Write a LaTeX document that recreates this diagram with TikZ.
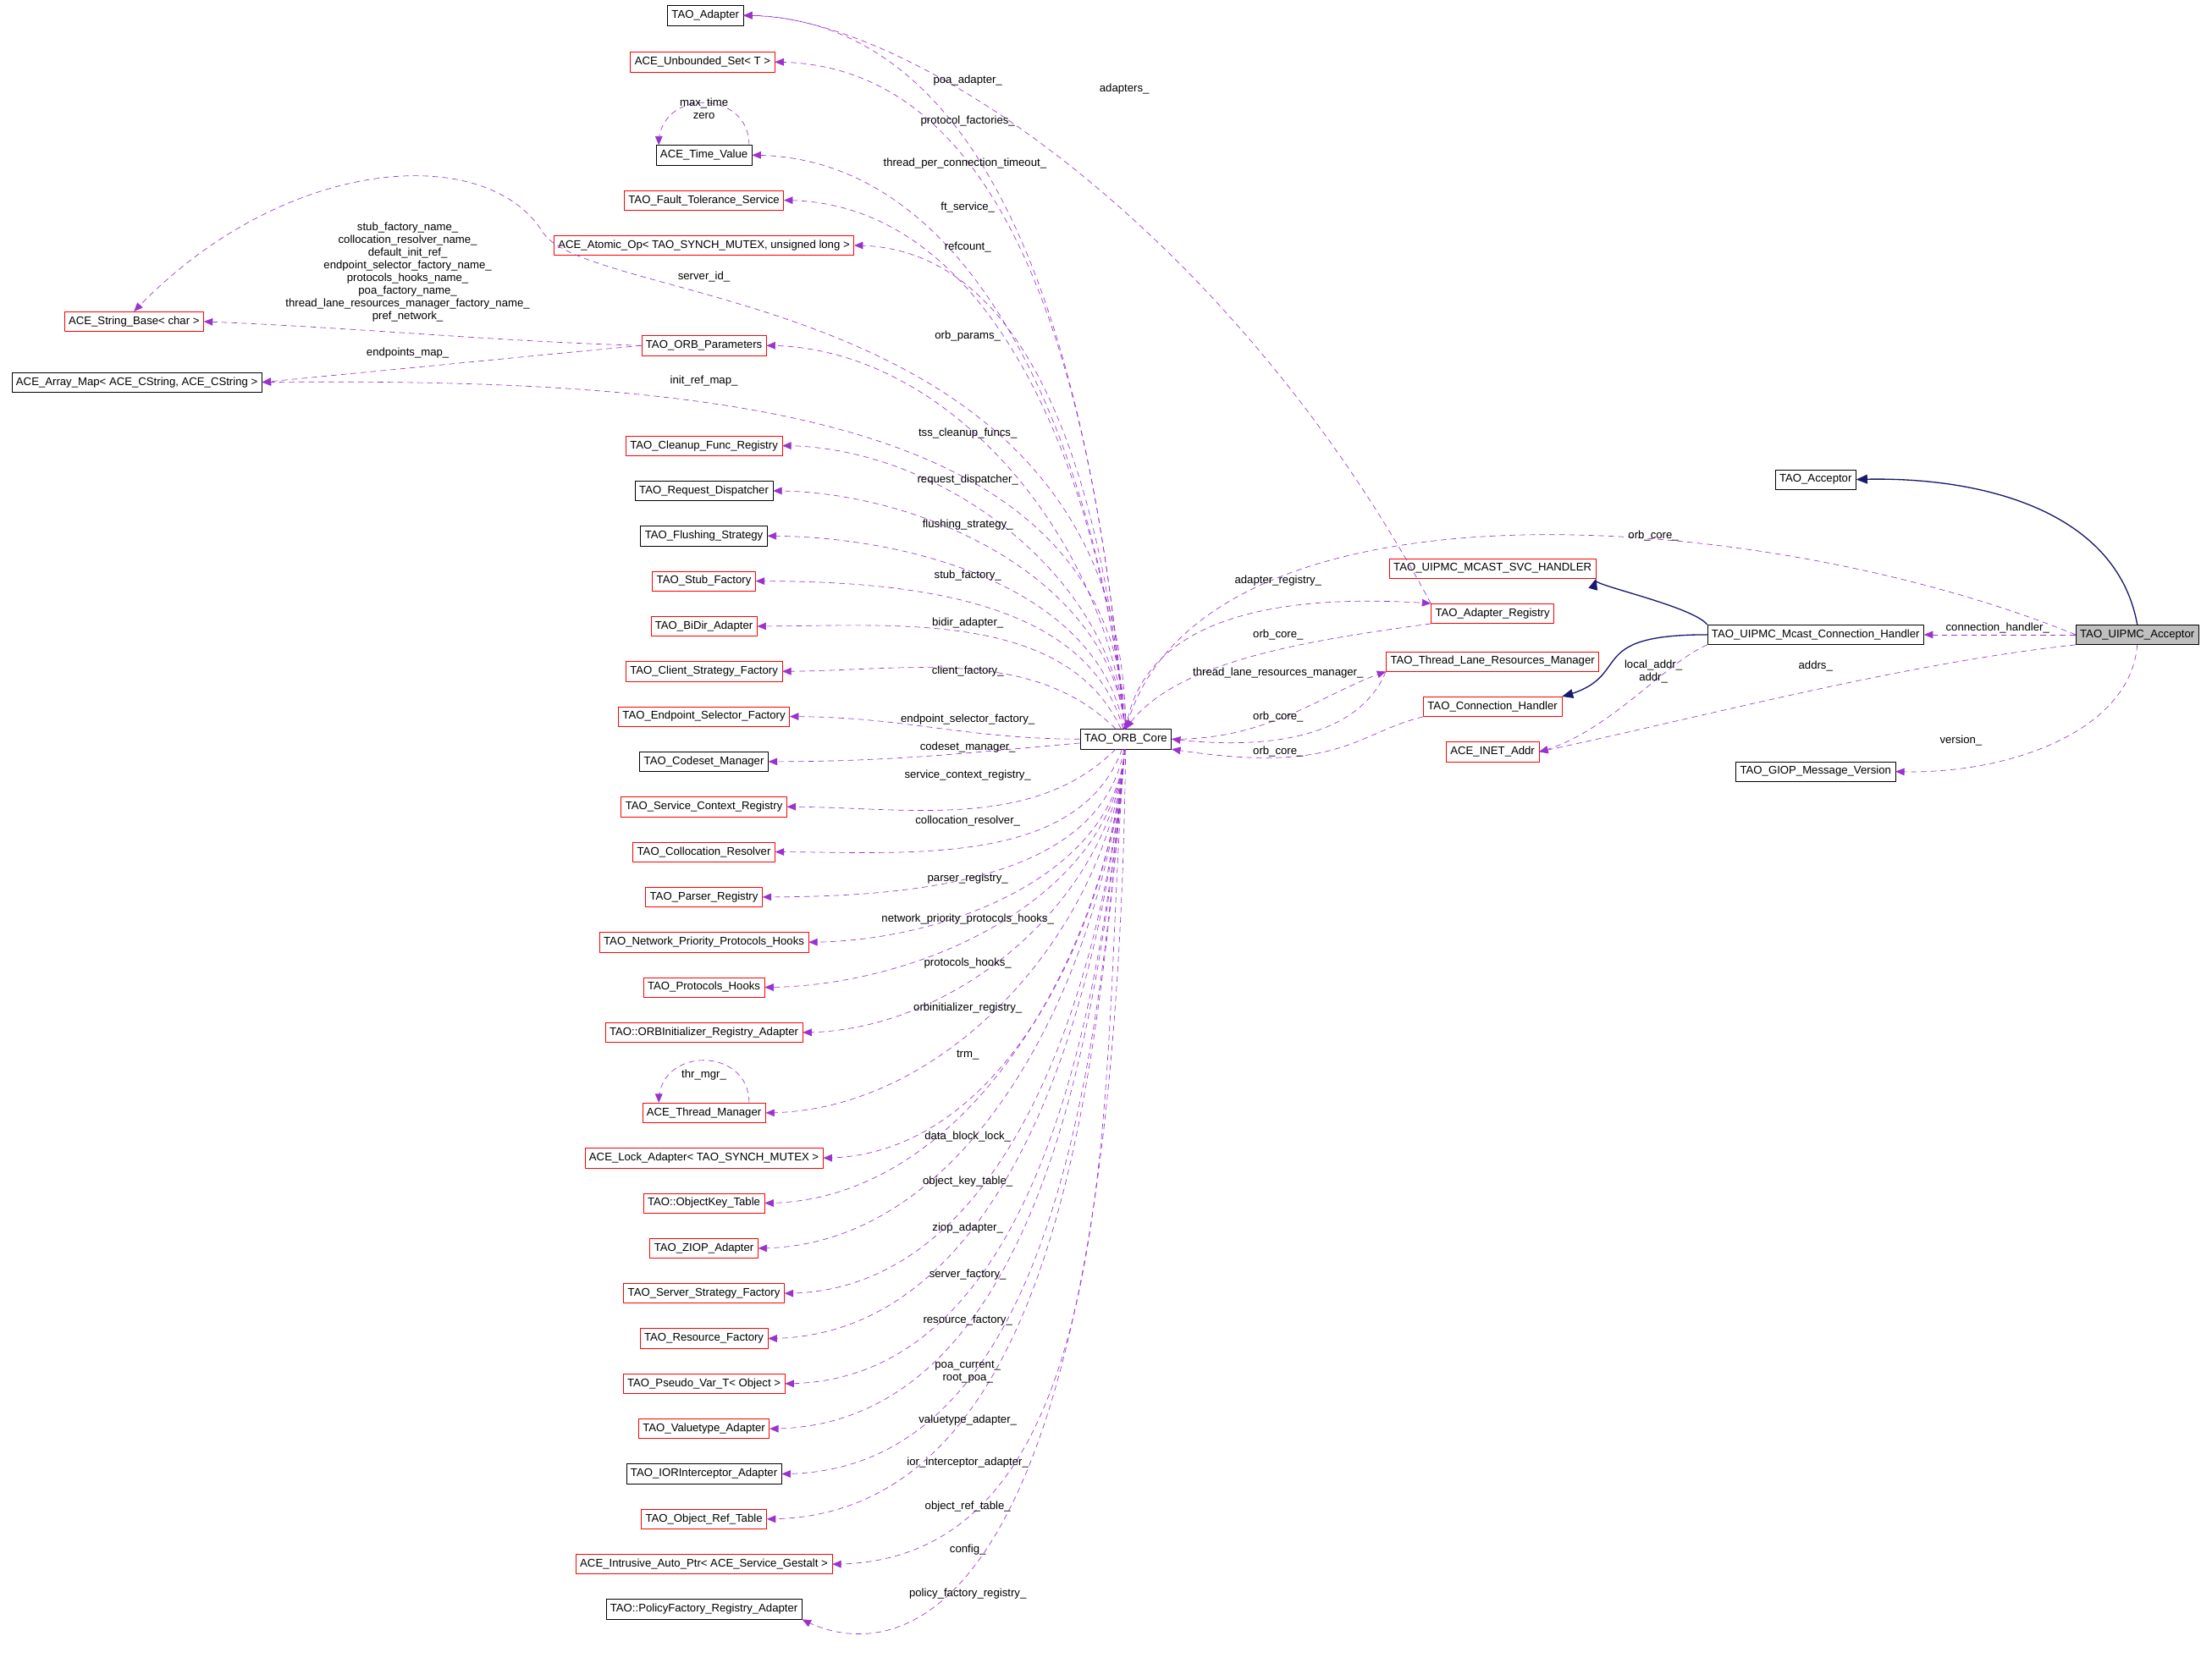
\documentclass[tikz,border=0pt]{standalone}
\usepackage{fontspec}
\setmainfont{Liberation Sans}
\usetikzlibrary{arrows}
\definecolor{depcol}{HTML}{9A32CD}
\definecolor{inhcol}{HTML}{191970}
\begin{document}
\begin{tikzpicture}[x=1pt,y=-1pt,>=triangle 45,line join=round,
	box/.style={draw=black,fill=white,minimum height=14,inner sep=3pt,font=\fontsize{7.9}{9}\selectfont},
	redbox/.style={box,draw=red},
	dep/.style={->,depcol,dashed,dash pattern=on 4pt off 3pt},
	inh/.style={->,inhcol,thick},
	lab/.style={font=\fontsize{7.9}{9}\selectfont,inner sep=0pt,align=center}]
		\useasboundingbox (0,0) rectangle (1568,1175);
		% nodes on the left
		\node[box] (adapter) at (500,11) {TAO\_Adapter};
		\node[redbox] (unbset) at (498,44) {ACE\_Unbounded\_Set< T >};
		\node[box] (timeval) at (499,110) {ACE\_Time\_Value};
		\node[redbox] (ftserv) at (499,142) {TAO\_Fault\_Tolerance\_Service};
		\node[redbox] (atomic) at (499,174) {ACE\_Atomic\_Op< TAO\_SYNCH\_MUTEX, unsigned long >};
		\node[redbox] (strbase) at (95,228) {ACE\_String\_Base< char >};
		\node[redbox] (orbparams) at (499,245) {TAO\_ORB\_Parameters};
		\node[box] (arraymap) at (97,271) {ACE\_Array\_Map< ACE\_CString, ACE\_CString >};
		\node[redbox] (cleanup) at (499,316) {TAO\_Cleanup\_Func\_Registry};
		\node[box] (reqdisp) at (499,348) {TAO\_Request\_Dispatcher};
		\node[box] (flush) at (499,380) {TAO\_Flushing\_Strategy};
		\node[redbox] (stubf) at (499,412) {TAO\_Stub\_Factory};
		\node[redbox] (bidir) at (499,444) {TAO\_BiDir\_Adapter};
		\node[redbox] (clientf) at (499,476) {TAO\_Client\_Strategy\_Factory};
		\node[redbox] (endpf) at (499,508) {TAO\_Endpoint\_Selector\_Factory};
		\node[box] (codeset) at (499,540) {TAO\_Codeset\_Manager};
		\node[redbox] (svcctx) at (499,572) {TAO\_Service\_Context\_Registry};
		\node[redbox] (colloc) at (499,604) {TAO\_Collocation\_Resolver};
		\node[redbox] (parser) at (499,636) {TAO\_Parser\_Registry};
		\node[redbox] (netprio) at (499,668) {TAO\_Network\_Priority\_Protocols\_Hooks};
		\node[redbox] (protohooks) at (499,700) {TAO\_Protocols\_Hooks};
		\node[redbox] (orbinit) at (499,732) {TAO::ORBInitializer\_Registry\_Adapter};
		\node[redbox] (thrmgr) at (499,789) {ACE\_Thread\_Manager};
		\node[redbox] (lockad) at (499,821) {ACE\_Lock\_Adapter< TAO\_SYNCH\_MUTEX >};
		\node[redbox] (objkey) at (499,853) {TAO::ObjectKey\_Table};
		\node[redbox] (ziop) at (499,885) {TAO\_ZIOP\_Adapter};
		\node[redbox] (serverf) at (499,917) {TAO\_Server\_Strategy\_Factory};
		\node[redbox] (resf) at (499,949) {TAO\_Resource\_Factory};
		\node[redbox] (pseudo) at (499,981) {TAO\_Pseudo\_Var\_T< Object >};
		\node[redbox] (valtype) at (499,1013) {TAO\_Valuetype\_Adapter};
		\node[box] (iorint) at (499,1045) {TAO\_IORInterceptor\_Adapter};
		\node[redbox] (objref) at (499,1077) {TAO\_Object\_Ref\_Table};
		\node[redbox] (intrusive) at (499,1109) {ACE\_Intrusive\_Auto\_Ptr< ACE\_Service\_Gestalt >};
		\node[box] (policyf) at (499,1141) {TAO::PolicyFactory\_Registry\_Adapter};
		% centre and right
		\node[box] (core) at (798,524) {TAO\_ORB\_Core};
		\node[redbox] (svch) at (1058,403) {TAO\_UIPMC\_MCAST\_SVC\_HANDLER};
		\node[redbox] (adreg) at (1058,435) {TAO\_Adapter\_Registry};
		\node[redbox] (tlrm) at (1058,469) {TAO\_Thread\_Lane\_Resources\_Manager};
		\node[redbox] (connh) at (1058,501) {TAO\_Connection\_Handler};
		\node[redbox] (inet) at (1058,533) {ACE\_INET\_Addr};
		\node[box] (acc) at (1287,340) {TAO\_Acceptor};
		\node[box] (mcast) at (1287,450) {TAO\_UIPMC\_Mcast\_Connection\_Handler};
		\node[box] (giop) at (1287,547) {TAO\_GIOP\_Message\_Version};
		\node[box,fill=black!25] (uipmc) at (1515,450) {TAO\_UIPMC\_Acceptor};
		% inheritance
		\draw[inh] (uipmc.north) .. controls (1500,360) and (1400,337) .. (acc.east);
		\draw[inh] (mcast.north west) .. controls (1200,430) and (1130,415) .. (svch.south east);
		\draw[inh] (mcast.west) .. controls (1120,450) and (1160,480) .. (connh.north east);
		% members of the core, above it
		\draw[dep] (core) to[out=95,in=0,looseness=0.9] (adapter.east);
		\draw[dep] (core) to[out=95,in=0,looseness=0.9] (unbset.east);
		\draw[dep] (core) to[out=95,in=0,looseness=0.9] (timeval.east);
		\draw[dep] (core) to[out=95,in=0,looseness=0.9] (ftserv.east);
		\draw[dep] (core) to[out=95,in=0,looseness=0.9] (atomic.east);
		\draw[dep] (core) to[out=95,in=0,looseness=0.9] (orbparams.east);
		\draw[dep] (core) to[out=95,in=0,looseness=0.9] (cleanup.east);
		\draw[dep] (core) to[out=95,in=0,looseness=0.9] (reqdisp.east);
		\draw[dep] (core) to[out=100,in=0,looseness=0.9] (flush.east);
		\draw[dep] (core) to[out=105,in=0,looseness=0.9] (stubf.east);
		\draw[dep] (core) to[out=115,in=0,looseness=0.9] (bidir.east);
		\draw[dep] (core) to[out=135,in=0,looseness=0.9] (clientf.east);
		\draw[dep] (core) to[out=180,in=0] (endpf.east);
		\draw[dep] (core) to[out=185,in=0] (codeset.east);
		% members of the core, below it
		\draw[dep] (core) to[out=-135,in=0,looseness=0.9] (svcctx.east);
		\draw[dep] (core) to[out=-110,in=0,looseness=0.9] (colloc.east);
		\draw[dep] (core) to[out=-100,in=0,looseness=0.9] (parser.east);
		\draw[dep] (core) to[out=-95,in=0,looseness=0.9] (netprio.east);
		\draw[dep] (core) to[out=-95,in=0,looseness=0.9] (protohooks.east);
		\draw[dep] (core) to[out=-95,in=0,looseness=0.9] (orbinit.east);
		\draw[dep] (core) to[out=-95,in=0,looseness=0.9] (thrmgr.east);
		\draw[dep] (core) to[out=-95,in=0,looseness=0.9] (lockad.east);
		\draw[dep] (core) to[out=-95,in=0,looseness=0.9] (objkey.east);
		\draw[dep] (core) to[out=-95,in=0,looseness=0.9] (ziop.east);
		\draw[dep] (core) to[out=-95,in=0,looseness=0.9] (serverf.east);
		\draw[dep] (core) to[out=-95,in=0,looseness=0.9] (resf.east);
		\draw[dep] (core) to[out=-95,in=0,looseness=0.9] (pseudo.east);
		\draw[dep] (core) to[out=-95,in=0,looseness=0.9] (valtype.east);
		\draw[dep] (core) to[out=-95,in=0,looseness=0.9] (iorint.east);
		\draw[dep] (core) to[out=-95,in=0,looseness=0.9] (objref.east);
		\draw[dep] (core) to[out=-95,in=0,looseness=0.9] (intrusive.east);
		\draw[dep] (core) .. controls (790,1150) and (640,1185) .. (policyf.south east);
		% self loops and strings
		\draw[dep] ([xshift=32]timeval.north) to[out=90,in=90,looseness=1.6] ([xshift=-32]timeval.north);
		\draw[dep] ([xshift=32]thrmgr.north) to[out=90,in=90,looseness=1.6] ([xshift=-32]thrmgr.north);
		\draw[dep] (core.north) .. controls (795,205) and (420,218) .. (385,165) .. controls (345,100) and (200,110) .. (strbase.north);
		\draw[dep] (orbparams.west) .. controls (350,242) and (250,232) .. (strbase.east);
		\draw[dep] (orbparams.west) .. controls (380,252) and (280,262) .. (arraymap.east);
		\draw[dep] (core.north) .. controls (790,290) and (500,268) .. (arraymap.east);
		% right hand side
		\draw[dep] (adreg.north west) .. controls (870,160) and (640,8) .. (adapter.east);
		\draw[dep] (core.north) .. controls (810,440) and (900,420) .. (adreg.north west);
		\draw[dep] (adreg.south west) .. controls (920,455) and (830,470) .. (core.north);
		\draw[dep] (core.east) .. controls (900,525) and (940,490) .. (tlrm.south west);
		\draw[dep] (tlrm.south west) .. controls (960,530) and (880,530) .. (core.east);
		\draw[dep] (connh.south west) .. controls (960,520) and (950,550) .. (core.south east);
		\draw[dep] (uipmc.west) .. controls (1250,360) and (850,330) .. (core.north);
		\draw[dep] (uipmc.west) -- (mcast.east);
		\draw[dep] (mcast.south west) .. controls (1180,470) and (1140,520) .. (inet.east);
		\draw[dep] (uipmc.south west) .. controls (1350,470) and (1200,510) .. (inet.east);
		\draw[dep] (uipmc.south) .. controls (1510,520) and (1420,550) .. (giop.east);
		% labels
		\node[lab] (l1) at (686,57) {poa\_adapter\_};
		\node[lab] (l2) at (797,63) {adapters\_};
		\node[lab] (l3) at (686,86) {protocol\_factories\_};
		\node[lab] (l4) at (499,77) {max\_time\\zero};
		\node[lab] (l5) at (684,116) {thread\_per\_connection\_timeout\_};
		\node[lab] (l6) at (686,147) {ft\_service\_};
		\node[lab] (l7) at (686,175) {refcount\_};
		\node[lab] (l8) at (499,196) {server\_id\_};
		\node[lab] (l9) at (289,193) {stub\_factory\_name\_\\collocation\_resolver\_name\_\\default\_init\_ref\_\\endpoint\_selector\_factory\_name\_\\protocols\_hooks\_name\_\\poa\_factory\_name\_\\thread\_lane\_resources\_manager\_factory\_name\_\\pref\_network\_};
		\node[lab] (l10) at (289,250) {endpoints\_map\_};
		\node[lab] (l11) at (686,238) {orb\_params\_};
		\node[lab] (l12) at (499,270) {init\_ref\_map\_};
		\node[lab] (l13) at (686,307) {tss\_cleanup\_funcs\_};
		\node[lab] (l14) at (686,340) {request\_dispatcher\_};
		\node[lab] (l15) at (686,372) {flushing\_strategy\_};
		\node[lab] (l16) at (686,408) {stub\_factory\_};
		\node[lab] (l17) at (686,442) {bidir\_adapter\_};
		\node[lab] (l18) at (686,476) {client\_factory\_};
		\node[lab] (l19) at (686,510) {endpoint\_selector\_factory\_};
		\node[lab] (l20) at (686,530) {codeset\_manager\_};
		\node[lab] (l21) at (686,550) {service\_context\_registry\_};
		\node[lab] (l22) at (686,582) {collocation\_resolver\_};
		\node[lab] (l23) at (686,623) {parser\_registry\_};
		\node[lab] (l24) at (686,652) {network\_priority\_protocols\_hooks\_};
		\node[lab] (l25) at (686,683) {protocols\_hooks\_};
		\node[lab] (l26) at (686,715) {orbinitializer\_registry\_};
		\node[lab] (l27) at (686,748) {trm\_};
		\node[lab] (l28) at (499,762) {thr\_mgr\_};
		\node[lab] (l29) at (686,806) {data\_block\_lock\_};
		\node[lab] (l30) at (686,838) {object\_key\_table\_};
		\node[lab] (l31) at (686,871) {ziop\_adapter\_};
		\node[lab] (l32) at (686,904) {server\_factory\_};
		\node[lab] (l33) at (686,936) {resource\_factory\_};
		\node[lab] (l34) at (686,973) {poa\_current\_\\root\_poa\_};
		\node[lab] (l35) at (686,1007) {valuetype\_adapter\_};
		\node[lab] (l36) at (686,1037) {ior\_interceptor\_adapter\_};
		\node[lab] (l37) at (686,1068) {object\_ref\_table\_};
		\node[lab] (l38) at (686,1099) {config\_};
		\node[lab] (l39) at (686,1130) {policy\_factory\_registry\_};
		\node[lab] (l40) at (1172,380) {orb\_core\_};
		\node[lab] (l41) at (906,412) {adapter\_registry\_};
		\node[lab] (l42) at (906,450) {orb\_core\_};
		\node[lab] (l43) at (906,477) {thread\_lane\_resources\_manager\_};
		\node[lab] (l44) at (906,508) {orb\_core\_};
		\node[lab] (l45) at (906,533) {orb\_core\_};
		\node[lab] (l46) at (1416,445) {connection\_handler\_};
		\node[lab] (l47) at (1172,476) {local\_addr\_\\addr\_};
		\node[lab] (l48) at (1287,472) {addrs\_};
		\node[lab] (l49) at (1390,525) {version\_};
\end{tikzpicture}
\end{document}
